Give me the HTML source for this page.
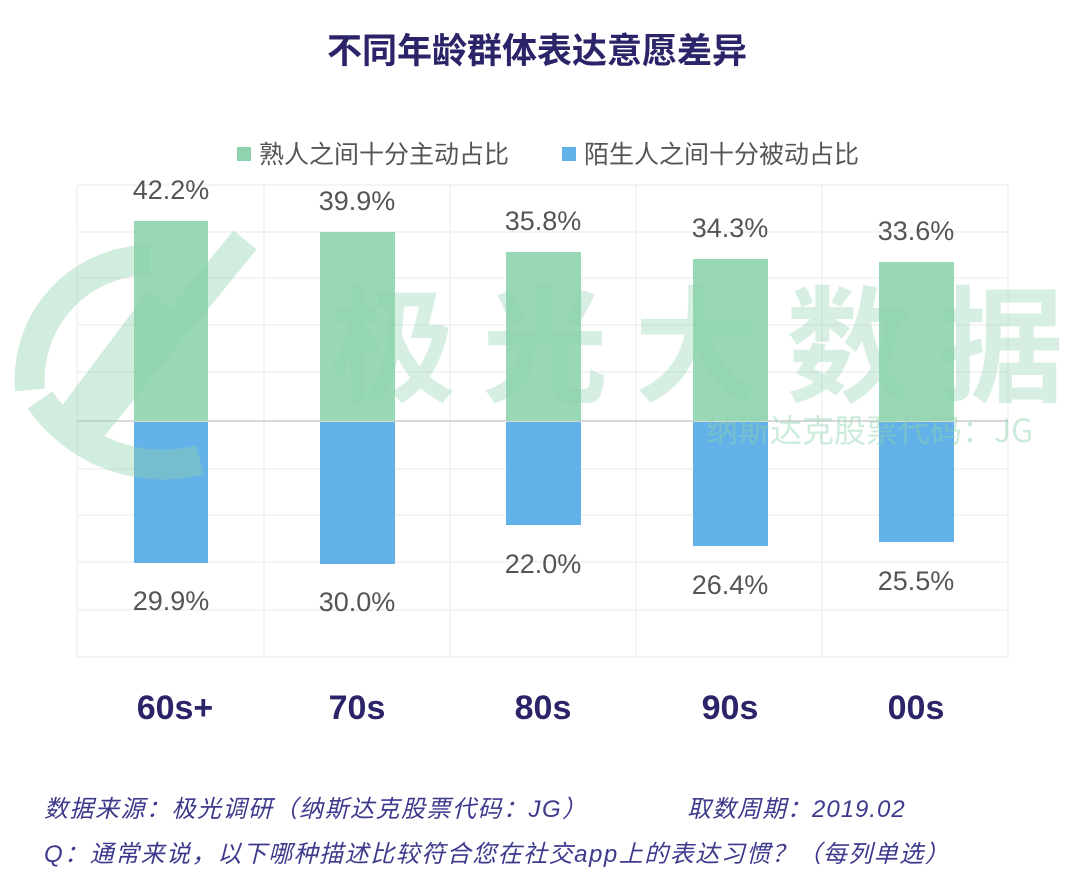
<!DOCTYPE html>
<html><head><meta charset="utf-8"><style>
html,body{margin:0;padding:0;background:#fff;}
svg{display:block;}
</style></head><body>
<svg width="1075" height="880" viewBox="0 0 1075 880" xmlns="http://www.w3.org/2000/svg" font-family="Liberation Sans, Noto Sans CJK SC, sans-serif">
<rect width="1075" height="880" fill="#fff"/>
<text x="537" y="63" text-anchor="middle" font-size="35" font-weight="bold" fill="#2b2468" font-family="Liberation Sans, Noto Sans CJK SC, sans-serif">不同年龄群体表达意愿差异</text>
<!-- legend -->
<rect x="237" y="147" width="14" height="14" fill="#8fd3ae"/>
<text x="259" y="163" font-size="25" fill="#555">熟人之间十分主动占比</text>
<rect x="562" y="147" width="14" height="14" fill="#62b1e8"/>
<text x="584" y="163" font-size="25" fill="#555">陌生人之间十分被动占比</text>
<!-- grid -->
<g stroke="#eeeeee" stroke-width="1.2">
<line x1="77" y1="185" x2="1008" y2="185"/><line x1="77" y1="232" x2="1008" y2="232"/><line x1="77" y1="278" x2="1008" y2="278"/><line x1="77" y1="325" x2="1008" y2="325"/><line x1="77" y1="372" x2="1008" y2="372"/><line x1="77" y1="469" x2="1008" y2="469"/><line x1="77" y1="515" x2="1008" y2="515"/><line x1="77" y1="562" x2="1008" y2="562"/><line x1="77" y1="610" x2="1008" y2="610"/><line x1="77" y1="657" x2="1008" y2="657"/>
<line x1="77" y1="185" x2="77" y2="657"/><line x1="264" y1="185" x2="264" y2="657"/><line x1="450" y1="185" x2="450" y2="657"/><line x1="636" y1="185" x2="636" y2="657"/><line x1="822" y1="185" x2="822" y2="657"/><line x1="1008" y1="185" x2="1008" y2="657"/>
</g>
<line x1="77" y1="421" x2="1008" y2="421" stroke="#cccccc" stroke-width="1.5"/>
<!-- bars -->
<g fill="#98d8b4">
<rect x="134" y="221" width="74" height="200"/><rect x="320" y="232" width="75" height="189"/><rect x="506" y="252" width="75" height="169"/><rect x="693" y="259" width="75" height="162"/><rect x="879" y="262" width="75" height="159"/>
</g>
<g fill="#62b1e8">
<rect x="134" y="422" width="74" height="141"/><rect x="320" y="422" width="75" height="142"/><rect x="506" y="422" width="75" height="103"/><rect x="693" y="422" width="75" height="124"/><rect x="879" y="422" width="75" height="120"/>
</g>
<!-- watermark -->
<g opacity="0.4" fill="none" stroke="#8fd3ae" stroke-width="30">
<path d="M150 260 A120 120 0 0 0 30 390"/>
<path d="M245 240 L90 430"/>
<path d="M160 300 L70 420"/>
<path d="M40 400 A150 150 0 0 0 200 460"/>
</g>
<text x="330" y="392" font-size="126" font-weight="bold" fill="#8fd3ae" opacity="0.35" letter-spacing="26" font-family="Noto Sans CJK SC, sans-serif">极光大数据</text>
<text x="706" y="442" font-size="32" fill="#8fd3ae" opacity="0.45" font-family="Noto Sans CJK SC, sans-serif">纳斯达克股票代码：JG</text>
<!-- labels -->
<g font-size="27" fill="#555" text-anchor="middle">
<text x="171" y="199">42.2%</text><text x="357" y="210">39.9%</text><text x="543" y="230">35.8%</text><text x="730" y="237">34.3%</text><text x="916" y="240">33.6%</text>
<text x="171" y="610">29.9%</text><text x="357" y="611">30.0%</text><text x="543" y="573">22.0%</text><text x="730" y="594">26.4%</text><text x="916" y="590">25.5%</text>
</g>
<g font-size="34" font-weight="bold" fill="#2b2468" text-anchor="middle">
<text x="175" y="719">60s+</text><text x="357" y="719">70s</text><text x="543" y="719">80s</text><text x="730" y="719">90s</text><text x="916" y="719">00s</text>
</g>
<g font-size="24" font-style="italic" fill="#3d3a8c">
<text x="44" y="817" letter-spacing="1.5">数据来源：极光调研（纳斯达克股票代码：JG）</text>
<text x="687" y="817" letter-spacing="1">取数周期：2019.02</text>
<text x="44" y="862" letter-spacing="1.5">Q：通常来说，以下哪种描述比较符合您在社交app上的表达习惯？（每列单选）</text>
</g>
</svg>
</body></html>
